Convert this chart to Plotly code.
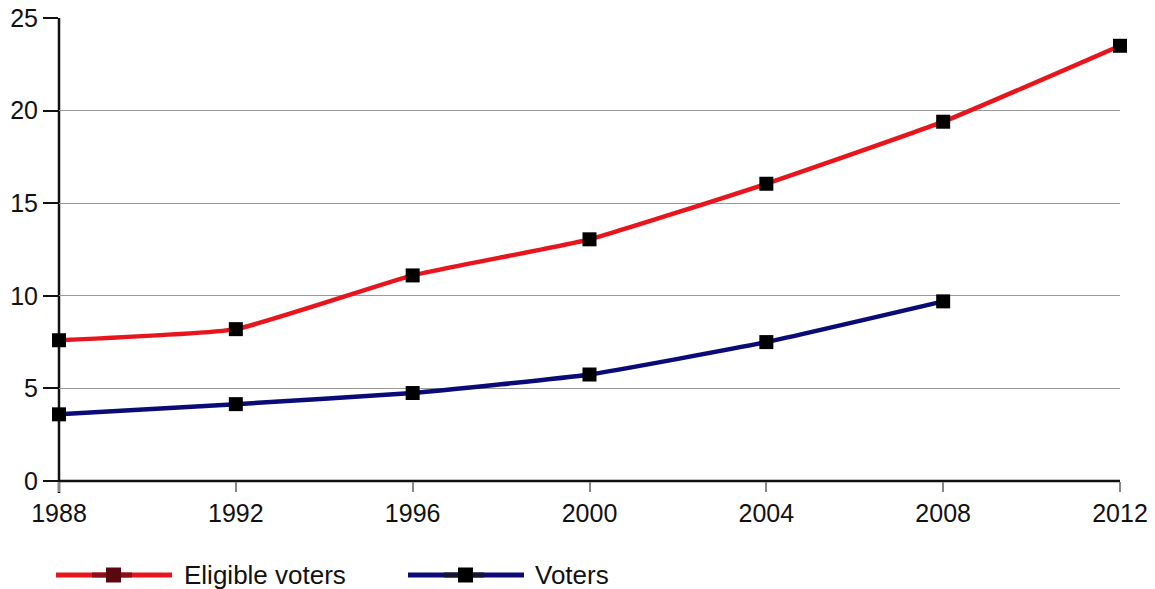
import plotly.graph_objects as go

years = [1988, 1992, 1996, 2000, 2004, 2008, 2012]
eligible_voters = [7.6, 8.2, 11.1, 13.05, 16.05, 19.4, 23.5]
voter_years = [1988, 1992, 1996, 2000, 2004, 2008]
voters = [3.6, 4.15, 4.75, 5.75, 7.5, 9.7]

y_ticks = [0, 5, 10, 15, 20, 25]

RED = "#e8161c"
NAVY = "#0b0b78"

W, H = 1155, 589
ML, MR, MT, MB = 59, 35, 18, 108
PW, PH = W - ML - MR, H - MT - MB


def px_x(px):
    return (px - ML) / PW


def px_y(py):
    return (H - MB - py) / PH


fig = go.Figure()
fig.add_trace(go.Scatter(
    x=years, y=eligible_voters, name="Eligible voters", mode="lines+markers",
    line=dict(color=RED, width=4.5, shape="spline", smoothing=0.4),
    marker=dict(symbol="square", size=14, color="#000000"),
    cliponaxis=False, showlegend=False,
))
fig.add_trace(go.Scatter(
    x=voter_years, y=voters, name="Voters", mode="lines+markers",
    line=dict(color=NAVY, width=4.5, shape="spline", smoothing=0.4),
    marker=dict(symbol="square", size=14, color="#000000"),
    cliponaxis=False, showlegend=False,
))

# axis lines: vertical axis (running slightly past zero) and the baseline
fig.add_shape(type="line", xref="paper", yref="paper", layer="below",
              x0=0, x1=0, y0=px_y(493), y1=1, line=dict(color="#111111", width=2.5))
fig.add_shape(type="line", xref="paper", yref="paper", layer="below",
              x0=0, x1=1, y0=0, y1=0, line=dict(color="#111111", width=2.5))

# legend drawn below the plot area
legend_items = [
    # label, line colour, key accent colour, marker colour, key start px, text start px
    ("Eligible voters", RED, "#8a1018", "#5a0810", 56, 182),
    ("Voters", NAVY, "#151530", "#000000", 408, 533),
]
key_len = 116
ly = 575
for label, lc, ac, mc, x0, tx in legend_items:
    fig.add_shape(type="line", xref="paper", yref="paper",
                  x0=px_x(x0), x1=px_x(x0 + key_len), y0=px_y(ly), y1=px_y(ly),
                  line=dict(color=lc, width=5))
    fig.add_shape(type="line", xref="paper", yref="paper",
                  x0=px_x(x0 + 36), x1=px_x(x0 + 76), y0=px_y(ly), y1=px_y(ly),
                  line=dict(color=ac, width=5))
    fig.add_shape(type="rect", xref="paper", yref="paper",
                  x0=px_x(x0 + 50), x1=px_x(x0 + 65), y0=px_y(ly - 7.5), y1=px_y(ly + 7.5),
                  line=dict(width=0), fillcolor=mc)
    fig.add_annotation(text=label, xref="paper", yref="paper", x=px_x(tx), y=px_y(ly),
                       xanchor="left", yanchor="middle", showarrow=False,
                       font=dict(size=26, color="#111111"))

fig.update_layout(
    template="none",
    width=W, height=H,
    margin=dict(l=ML, r=MR, t=MT, b=MB, autoexpand=False),
    paper_bgcolor="white", plot_bgcolor="white",
    font=dict(family="Liberation Sans, Arial, sans-serif", size=25, color="#111111"),
    showlegend=False,
)
fig.update_xaxes(
    range=[1988, 2012], tickvals=years, ticktext=[str(y) for y in years],
    showgrid=False, zeroline=False, showline=False, automargin=False,
    ticks="outside", ticklen=10, tickcolor="#888888", tickwidth=1.5,
)
fig.update_yaxes(
    range=[0, 25], tickvals=y_ticks, automargin=False,
    showgrid=True, gridcolor="#9a9a9a", gridwidth=1,
    zeroline=False, showline=False,
    ticks="outside", ticklen=15, tickcolor="#111111", tickwidth=1.5,
)

fig.write_html("out.html")
